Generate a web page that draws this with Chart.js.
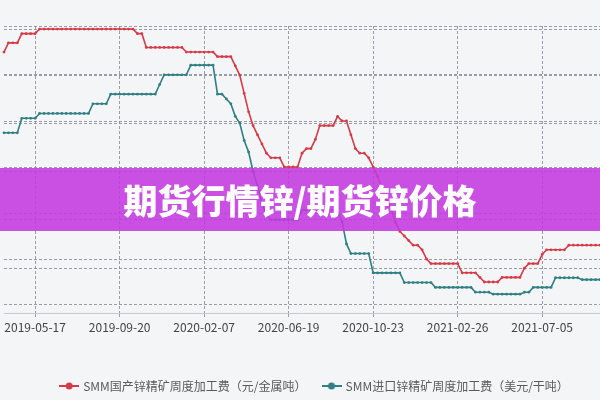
<!DOCTYPE html>
<html lang="zh-CN">
<head>
<meta charset="utf-8">
<title>期货行情锌/期货锌价格</title>
<script src="https://cdn.jsdelivr.net/npm/chart.js@4.4.1/dist/chart.umd.min.js"></script>
<style>
  html, body { margin: 0; padding: 0; background: #f4f5f7; overflow: hidden; }
  #wrap { position: relative; width: 600px; height: 400px; overflow: hidden; }
  #box { position: absolute; left: 0; top: 0; width: 630px; height: 402px; }
  #banner {
    position: absolute; left: 0; top: 168px; width: 600px; height: 63px;
    background: rgba(195, 57, 223, 0.88);
    color: #fff; font: 900 34px "Noto Sans CJK SC", sans-serif;
    display: flex; align-items: center; justify-content: center;
  }
</style>
</head>
<body>
<div id="wrap">
  <div id="box"><canvas id="tcChart"></canvas></div>
  <div id="banner">期货行情锌/期货锌价格</div>
</div>
<script>
// weekly publication dates
const dates = [
  '2019-03-29', '2019-04-04', '2019-04-12', '2019-04-19', '2019-04-26', '2019-04-30', '2019-05-10', '2019-05-17',
  '2019-05-24', '2019-05-31', '2019-06-06', '2019-06-14', '2019-06-21', '2019-06-28', '2019-07-05', '2019-07-12',
  '2019-07-19', '2019-07-26', '2019-08-02', '2019-08-09', '2019-08-16', '2019-08-23', '2019-08-30', '2019-09-06',
  '2019-09-12', '2019-09-17', '2019-09-20', '2019-09-27', '2019-10-11', '2019-10-18', '2019-10-25', '2019-11-01',
  '2019-11-08', '2019-11-15', '2019-11-22', '2019-11-29', '2019-12-06', '2019-12-13', '2019-12-20', '2019-12-27',
  '2020-01-03', '2020-01-10', '2020-01-17', '2020-01-23', '2020-02-03', '2020-02-07', '2020-02-14', '2020-02-21',
  '2020-02-28', '2020-03-06', '2020-03-13', '2020-03-20', '2020-03-27', '2020-04-03', '2020-04-10', '2020-04-17',
  '2020-04-24', '2020-04-30', '2020-05-08', '2020-05-15', '2020-05-22', '2020-05-29', '2020-06-05', '2020-06-12',
  '2020-06-19', '2020-06-24', '2020-06-28', '2020-07-03', '2020-07-10', '2020-07-17', '2020-07-24', '2020-07-31',
  '2020-08-07', '2020-08-14', '2020-08-21', '2020-08-28', '2020-09-04', '2020-09-11', '2020-09-18', '2020-09-25',
  '2020-09-30', '2020-10-09', '2020-10-16', '2020-10-23', '2020-10-30', '2020-11-06', '2020-11-13', '2020-11-20',
  '2020-11-27', '2020-12-04', '2020-12-11', '2020-12-18', '2020-12-25', '2020-12-31', '2021-01-08', '2021-01-15',
  '2021-01-22', '2021-01-29', '2021-02-05', '2021-02-10', '2021-02-19', '2021-02-20', '2021-02-26', '2021-03-05',
  '2021-03-12', '2021-03-19', '2021-03-26', '2021-04-02', '2021-04-09', '2021-04-16', '2021-04-23', '2021-04-30',
  '2021-05-07', '2021-05-14', '2021-05-21', '2021-05-28', '2021-06-04', '2021-06-11', '2021-06-18', '2021-06-25',
  '2021-07-02', '2021-07-05', '2021-07-12', '2021-07-19', '2021-07-26', '2021-08-02', '2021-08-09', '2021-08-16',
  '2021-08-23', '2021-08-30', '2021-09-06', '2021-09-13', '2021-09-22', '2021-09-27', '2021-10-08'
];

const tickLabels = ['2019-05-17', '2019-09-20', '2020-02-07', '2020-06-19', '2020-10-23', '2021-02-26', '2021-07-05'];

// SMM国产锌精矿周度加工费 (元/金属吨)
const domesticTC = [
  6250, 6350, 6350, 6350, 6450, 6450, 6450, 6450,
  6500, 6500, 6500, 6500, 6500, 6500, 6500, 6500, 6500, 6500, 6500,
  6500, 6500, 6500, 6500, 6500, 6500, 6500, 6500, 6500, 6500, 6500,
  6450, 6450,
  6300, 6300, 6300, 6300, 6300, 6300, 6300, 6300, 6300,
  6250, 6250, 6250, 6250, 6250, 6250, 6250,
  6200, 6200, 6200, 6200,
  6100, 6000, 5800, 5600, 5450, 5350, 5250, 5150, 5100, 5100, 5100,
  5000, 5000, 5000, 5000,
  5150, 5200, 5200, 5300, 5450, 5450, 5450, 5450, 5550, 5500, 5500, 5350, 5200,
  5150, 5150, 5100, 5000, 4900, 4750, 4650, 4550, 4400, 4300, 4250, 4200, 4150, 4150, 4100, 4000,
  3950, 3950, 3950, 3950, 3950, 3950, 3950,
  3850, 3850, 3850, 3850, 3800,
  3750, 3750, 3750, 3750,
  3800, 3800, 3800, 3800, 3800, 3900,
  3950, 3950, 3950, 4050,
  4100, 4100, 4100, 4100, 4100,
  4150, 4150, 4150, 4150, 4150, 4150, 4150, 4150
];

// SMM进口锌精矿周度加工费 (美元/干吨)
const importTC = [
  240, 240, 240, 240, 255, 255, 255, 255,
  260, 260, 260, 260, 260, 260, 260, 260, 260, 260, 260, 260,
  270, 270, 270, 270,
  280, 280, 280, 280, 280, 280, 280, 280, 280, 280, 280,
  290, 300, 300, 300, 300, 300, 300,
  310, 310, 310, 310, 310, 310,
  280, 280, 275, 270, 257, 250, 232, 220, 200, 185, 167, 155,
  150, 150, 150, 150, 150, 150, 150,
  160, 160, 160, 160, 160, 160, 160, 160, 160,
  148, 125, 115, 115, 115, 115, 115,
  95, 95, 95, 95, 95, 95, 95,
  85, 85, 85, 85, 85, 85, 85,
  80, 80, 80, 80, 80, 80, 80, 80, 80,
  75, 75, 75, 75,
  73, 73, 73, 73, 73, 73, 73,
  75, 75, 80, 80, 80, 80, 80,
  90, 90, 90, 90, 90, 90,
  88, 88, 88, 88, 88
];

const domesticTicks = [3500, 4000, 4500, 5000, 5500, 6000, 6500];
const importTicks = [100, 150, 200, 250, 300, 350];

const RED = '#d43b47';
const TEAL = '#2f7f83';
const GRID = 'rgba(130, 134, 148, 0.8)';
const FONT = '"Noto Sans CJK SC", "Noto Sans", sans-serif';
const LEGEND_PAD = 17;
const X_AXIS_H = 50;

function legendMarker(color) {
    const c = document.createElement('canvas');
    c.width = 20;
    c.height = 10;
    const g = c.getContext('2d');
    g.strokeStyle = color;
    g.lineWidth = 2;
    g.beginPath();
    g.moveTo(0, 5);
    g.lineTo(20, 5);
    g.stroke();
    g.fillStyle = color;
    g.beginPath();
    g.arc(10, 5, 3.5, 0, Math.PI * 2);
    g.fill();
    return c;
}
const markers = [legendMarker(RED), legendMarker(TEAL)];

function hiddenValueAxis(position, min, max, tickValues, width) {
    return {
        position: position,
        min: min,
        max: max,
        ticks: { display: false },
        grid: { color: GRID, lineWidth: 1, drawTicks: false },
        border: { display: false, dash: [3, 2] },
        afterBuildTicks: scale => { scale.ticks = tickValues.map(v => ({ value: v })); },
        afterFit: scale => { scale.width = width; }
    };
}

new Chart(document.getElementById('tcChart'), {
    type: 'line',
    data: {
        labels: dates,
        datasets: [
            {
                label: 'SMM国产锌精矿周度加工费（元/金属吨）',
                data: domesticTC,
                yAxisID: 'yDomestic',
                borderColor: RED,
                backgroundColor: RED,
                pointBackgroundColor: RED,
                borderWidth: 1.6,
                pointRadius: 1.4,
                pointBorderWidth: 0,
                tension: 0
            },
            {
                label: 'SMM进口锌精矿周度加工费（美元/干吨）',
                data: importTC,
                yAxisID: 'yImport',
                borderColor: TEAL,
                backgroundColor: TEAL,
                pointBackgroundColor: TEAL,
                borderWidth: 1.6,
                pointRadius: 1.4,
                pointBorderWidth: 0,
                tension: 0
            }
        ]
    },
    options: {
        responsive: true,
        maintainAspectRatio: false,
        animation: false,
        layout: { padding: { top: 26, left: 0, right: 0, bottom: 0 } },
        plugins: {
            tooltip: { enabled: true },
            legend: {
                position: 'bottom',
                labels: {
                    usePointStyle: true,
                    pointStyleWidth: 16,
                    padding: LEGEND_PAD,
                    color: '#5a5a5a',
                    font: { family: FONT, size: 12 },
                    generateLabels: chart => {
                        const items = Chart.defaults.plugins.legend.labels.generateLabels(chart);
                        items.forEach((item, i) => { item.pointStyle = markers[i]; });
                        return items;
                    }
                }
            }
        },
        scales: {
            x: {
                type: 'category',
                offset: false,
                grid: { color: GRID, lineWidth: 1, tickLength: 5, tickColor: GRID, tickBorderDash: [3, 2] },
                border: { display: true, color: '#c6c9d1', dash: [3, 2] },
                ticks: {
                    autoSkip: false,
                    maxRotation: 0,
                    padding: 2,
                    color: '#444',
                    font: { family: FONT, size: 12 }
                },
                afterBuildTicks: scale => {
                    scale.ticks = tickLabels.map(l => ({ value: dates.indexOf(l) }));
                },
                afterFit: scale => { scale.height = X_AXIS_H; }
            },
            yDomestic: hiddenValueAxis('left', 3413, 6533, domesticTicks, 2),
            yImport: hiddenValueAxis('right', 53.5, 350.5, importTicks, 30)
        }
    }
});
</script>
</body>
</html>
